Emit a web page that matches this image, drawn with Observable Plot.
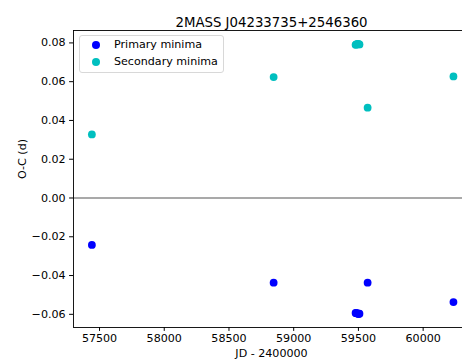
<!DOCTYPE html>
<html>
<head>
<meta charset="utf-8">
<script src="https://cdn.jsdelivr.net/npm/d3@7"></script>
<script src="https://cdn.jsdelivr.net/npm/@observablehq/plot@0.6"></script>
<style>
  html, body { margin: 0; padding: 0; background: #fff; }
  #wrap { position: relative; width: 462px; height: 361px; overflow: hidden; font-family: "DejaVu Sans", sans-serif; }
  #wrap svg { max-width: none !important; height: 361px !important; }
  #legend { position: absolute; left: 79px; top: 35px; width: 143px; height: 36px; border: 1px solid #d8d8d8; border-radius: 3px; background: rgba(255,255,255,0.8); font-size: 11.1px; color: #000; }
  .item { position: absolute; left: 0; height: 14px; line-height: 14px; white-space: nowrap; }
  .sw { position: absolute; left: 12px; top: 3px; width: 8px; height: 8px; border-radius: 50%; }
  .lab { position: absolute; left: 34px; top: 0; }
</style>
</head>
<body>
<div id="wrap"></div>
<script>
const title = "2MASS J04233735+2546360";
const xLabel = "JD - 2400000";
const yLabel = "O-C (d)";
const seriesNames = ["Primary minima", "Secondary minima"];
const seriesColors = ["#0000ff", "#00bfbf"];

const primaryJD = [57441, 58845, 59478, 59483, 59488, 59493, 59498, 59503, 59508, 59571, 60234];
const primaryOC = [-0.0242, -0.0437, -0.0593, -0.0594, -0.0595, -0.0596, -0.0597, -0.0597, -0.0597, -0.0437, -0.0537];
const secondaryJD = [57441, 58845, 59478, 59483, 59488, 59493, 59498, 59503, 59508, 59571, 60234];
const secondaryOC = [0.0328, 0.0624, 0.0790, 0.0792, 0.0793, 0.0794, 0.0794, 0.0793, 0.0792, 0.0466, 0.0627];

const xTicks = [57500, 58000, 58500, 59000, 59500, 60000];
const yTicks = [-0.06, -0.04, -0.02, 0.00, 0.02, 0.04, 0.06, 0.08];

const data = [
  ...primaryJD.map((jd, i) => ({jd, oc: primaryOC[i], s: seriesNames[0]})),
  ...secondaryJD.map((jd, i) => ({jd, oc: secondaryOC[i], s: seriesNames[1]}))
];

const fontSize = "11.1px";
const chart = Plot.plot({
  width: 470,
  height: 361,
  marginLeft: 73,
  marginRight: 1,
  marginTop: 30,
  marginBottom: 34,
  style: {fontFamily: "DejaVu Sans, sans-serif", fontSize, color: "#000", background: "#fff"},
  x: {domain: [57299, 60358]},
  y: {domain: [-0.0668, 0.0864]},
  color: {domain: seriesNames, range: seriesColors},
  marks: [
    Plot.ruleY([0], {stroke: "#8c8c8c", strokeWidth: 1.4}),
    Plot.dot(data, {x: "jd", y: "oc", fill: "s", r: 3.9, stroke: null}),
    Plot.frame({stroke: "#000", strokeWidth: 0.9}),
    Plot.axisX({ticks: xTicks, tickFormat: d3.format("d"), tickSize: 3.9, tickPadding: 3, fontSize, label: null}),
    Plot.axisY({ticks: yTicks, tickFormat: d3.format(".2f"), tickSize: 3.9, tickPadding: 4, fontSize, label: null}),
    Plot.text([xLabel], {frameAnchor: "bottom", dy: 22, text: d => d, fontSize, lineAnchor: "top"}),
    Plot.text([yLabel], {frameAnchor: "left", dx: -51, rotate: -90, text: d => d, fontSize}),
    Plot.text([title], {frameAnchor: "top", dy: -13, text: d => d, fontSize: "13.3px"})
  ]
});
chart.style.maxWidth = "none";
document.getElementById("wrap").appendChild(chart);

const legend = document.createElement("div");
legend.id = "legend";
seriesNames.forEach((name, i) => {
  const item = document.createElement("div");
  item.className = "item";
  item.style.top = (2 + i * 17) + "px";
  item.style.width = "100%";
  const sw = document.createElement("span");
  sw.className = "sw";
  sw.style.background = seriesColors[i];
  const lab = document.createElement("span");
  lab.className = "lab";
  lab.textContent = name;
  item.appendChild(sw);
  item.appendChild(lab);
  legend.appendChild(item);
});
document.getElementById("wrap").appendChild(legend);
</script>
</body>
</html>
